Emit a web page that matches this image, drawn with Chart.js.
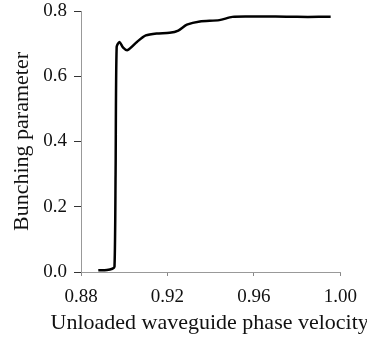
<!DOCTYPE html>
<html>
<head>
<meta charset="utf-8">
<script src="https://cdn.jsdelivr.net/npm/chart.js@4/dist/chart.umd.min.js"></script>
<style>
  html, body { margin: 0; padding: 0; background: #fff; }
  #wrap { width: 367px; height: 337px; }
</style>
</head>
<body>
<div id="wrap"><canvas id="chart" width="367" height="337"></canvas></div>
<script>
// phase velocity (x) vs bunching parameter (y)
const phaseVelocity = [0.888, 0.892, 0.8945, 0.8955, 0.896, 0.8965, 0.8978, 0.8995, 0.9015, 0.906, 0.910, 0.915, 0.921, 0.925, 0.929, 0.935, 0.944, 0.950, 0.960, 0.970, 0.980, 0.990, 0.9955];
const bunching = [0.005, 0.006, 0.010, 0.016, 0.30, 0.690, 0.705, 0.688, 0.680, 0.706, 0.725, 0.731, 0.733, 0.740, 0.758, 0.768, 0.772, 0.782, 0.783, 0.783, 0.782, 0.782, 0.782];
const xTicks = [0.88, 0.92, 0.96, 1.00];
const yTicks = [0.0, 0.2, 0.4, 0.6, 0.8];
const xTitle = 'Unloaded waveguide phase velocity';
const yTitle = 'Bunching parameter';

const points = phaseVelocity.map((v, i) => ({ x: v, y: bunching[i] }));
const serif = '"Liberation Serif", "DejaVu Serif", serif';

// chart.js squeezes a scale title to the axis width, the original one runs past it
const xTitlePlugin = {
    id: 'xTitle',
    afterDraw(chart) {
        const { ctx, chartArea } = chart;
        ctx.save();
        ctx.font = '22px ' + serif;
        ctx.fillStyle = '#111';
        ctx.textAlign = 'center';
        ctx.textBaseline = 'middle';
        ctx.fillText(xTitle, (chartArea.left + chartArea.right) / 2 - 1, chart.height - 14);
        ctx.restore();
    }
};

new Chart(document.getElementById('chart'), {
    type: 'line',
    data: {
        datasets: [{
            data: points,
            borderColor: '#000',
            borderWidth: 2.5,
            pointRadius: 0,
            tension: 0.25,
            fill: false,
            clip: false
        }]
    },
    options: {
        responsive: false,
        animation: false,
        layout: { padding: { top: 11, right: 25, left: 0, bottom: 0 } },
        plugins: { legend: { display: false }, tooltip: { enabled: false } },
        scales: {
            x: {
                type: 'linear',
                min: 0.88,
                max: 1.0,
                afterBuildTicks: s => { s.ticks = xTicks.map(v => ({ value: v })); },
                afterFit: s => { s.height = 65; },
                grid: { drawOnChartArea: false, tickLength: 4, color: '#888' },
                border: { color: '#999', dash: [2, 3] },
                ticks: {
                    color: '#111',
                    padding: 10,
                    font: { family: serif, size: 19 },
                    callback: v => v.toFixed(2)
                }
            },
            y: {
                type: 'linear',
                min: 0,
                max: 0.8,
                afterBuildTicks: s => { s.ticks = yTicks.map(v => ({ value: v })); },
                afterFit: s => { s.width = 81; s.paddingTop = 0; s.paddingBottom = 0; },
                grid: { drawOnChartArea: false, tickLength: 7, color: '#333' },
                border: { color: '#999', dash: [2, 3] },
                ticks: {
                    color: '#111',
                    padding: 7,
                    font: { family: serif, size: 19 },
                    callback: v => v.toFixed(1)
                },
                title: {
                    display: true,
                    text: yTitle,
                    color: '#111',
                    font: { family: serif, size: 22 },
                    padding: { top: 9, bottom: 0 }
                }
            }
        }
    },
    plugins: [xTitlePlugin]
});
</script>
</body>
</html>
